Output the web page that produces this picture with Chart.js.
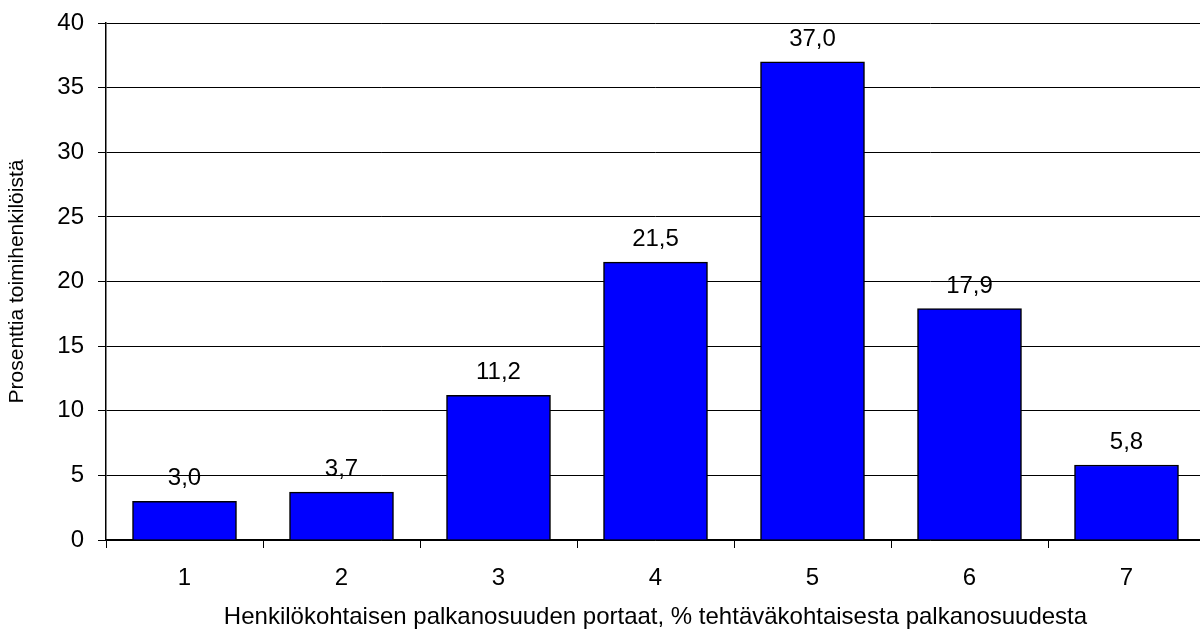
<!DOCTYPE html>
<html>
<head>
<meta charset="utf-8">
<script src="https://cdn.jsdelivr.net/npm/chart.js@4/dist/chart.umd.min.js"></script>
<style>
  html, body { margin: 0; padding: 0; background: #fff; overflow: hidden; }
  #wrap { width: 1210px; height: 632px; }
</style>
</head>
<body>
<div id="wrap"><canvas id="chart" width="1210" height="632"></canvas></div>
<script>
// data
const steps = ['1', '2', '3', '4', '5', '6', '7'];
const shares = [3.0, 3.7, 11.2, 21.5, 37.0, 17.9, 5.8];
const yTicks = [0, 5, 10, 15, 20, 25, 30, 35, 40];

const xTitle = 'Henkilökohtaisen palkanosuuden portaat, % tehtäväkohtaisesta palkanosuudesta';
const yTitle = 'Prosenttia toimihenkilöistä';

const FONT = 'Arial, "Liberation Sans", sans-serif';

// value labels above bars, decimal comma
const valueLabels = {
    id: 'valueLabels',
    afterDatasetsDraw(chart) {
        const ctx = chart.ctx;
        const meta = chart.getDatasetMeta(0);
        ctx.save();
        ctx.fillStyle = '#000';
        ctx.font = '24px ' + FONT;
        ctx.textAlign = 'center';
        ctx.textBaseline = 'alphabetic';
        meta.data.forEach((bar, i) => {
            const txt = shares[i].toFixed(1).replace('.', ',');
            ctx.fillText(txt, bar.x, bar.y - 16);
        });
        ctx.restore();
    }
};

new Chart(document.getElementById('chart').getContext('2d'), {
    type: 'bar',
    data: {
        labels: steps,
        datasets: [{
            data: shares,
            backgroundColor: '#0000FF',
            borderColor: '#000',
            borderWidth: 1.5,
            barThickness: 104
        }]
    },
    options: {
        responsive: false,
        animation: false,
        layout: { padding: { top: 10, right: 5, left: 0, bottom: 0 } },
        plugins: { legend: { display: false }, tooltip: { enabled: false } },
        scales: {
            x: {
                grid: {
                    offset: true,
                    drawOnChartArea: false,
                    tickLength: 8,
                    color: '#000',
                    lineWidth: 1
                },
                border: { color: '#000', width: 1.5 },
                ticks: { color: '#000', font: { family: FONT, size: 24 }, padding: 16 },
                title: {
                    display: true,
                    text: xTitle,
                    color: '#000',
                    font: { family: FONT, size: 24 },
                    padding: { top: 4, bottom: 0 }
                },
                afterFit(scale) { scale.height = 92; }
            },
            y: {
                min: 0,
                max: 40,
                afterBuildTicks(scale) { scale.ticks = yTicks.map(v => ({ value: v })); },
                grid: { color: '#000', lineWidth: 1, tickLength: 8 },
                border: { color: '#000', width: 1.5 },
                ticks: { color: '#000', font: { family: FONT, size: 24, lineHeight: 0.75 }, padding: 14 },
                title: {
                    display: true,
                    text: yTitle,
                    color: '#000',
                    font: { family: FONT, size: 21 },
                    padding: { top: 5, bottom: 0 }
                },
                afterFit(scale) { scale.width = 106; }
            }
        }
    },
    plugins: [valueLabels]
});
</script>
</body>
</html>
